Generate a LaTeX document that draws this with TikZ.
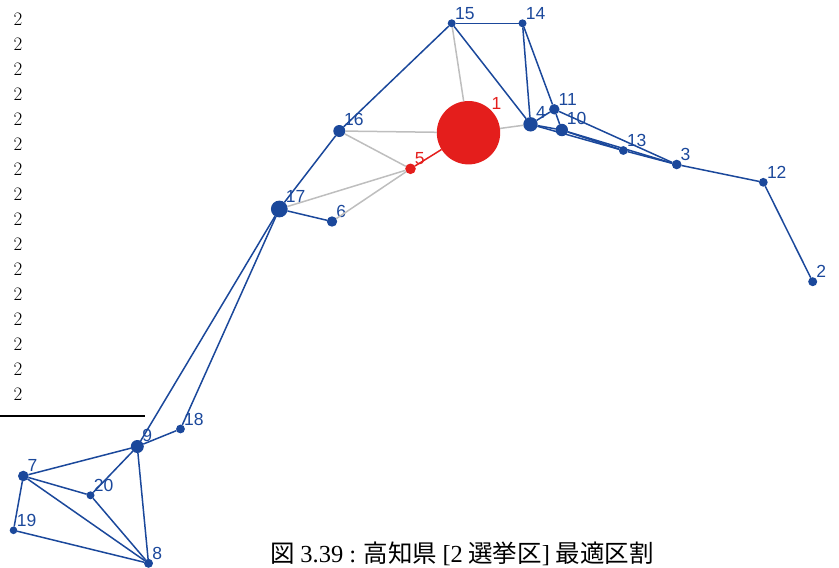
\documentclass[tikz,border=0pt]{standalone}
\usepackage{fontspec}
\newfontfamily\cjk{Noto Sans CJK JP}
\newfontfamily\tms{Liberation Serif}
\newfontfamily\hlv{Liberation Sans}
\usetikzlibrary{positioning}
\definecolor{kblue}{RGB}{27,72,155}
\definecolor{kred}{RGB}{228,30,28}
\definecolor{kgray}{RGB}{190,190,190}
\tikzset{
  vtx/.style={circle,inner sep=0pt,outer sep=0pt},
  lab/.style={font=\hlv\fontsize{17.5}{17.5}\selectfont,inner sep=0.4pt,label distance=0pt},
  bedge/.style={kblue,line width=1.5pt},
  gedge/.style={kgray,line width=1.5pt},
}

\begin{document}
\begin{tikzpicture}[x=1pt,y=-1pt]
  \useasboundingbox (0,0) rectangle (839,568);
  % column of 2s on the left
  \foreach \k in {0,...,16}
    \node[font=\fontsize{19}{20}\selectfont,inner sep=0pt] (two\k) at (18,{-6+25*\k}) {2};
  \coordinate (rl) at (0,416);
  \coordinate (rr) at (145,416);
  \draw[line width=1.5pt] (rl) -- (rr);
  % districts
  \foreach \n/\x/\y/\r/\c in {1/468.5/132.7/31.7/kred,2/812.7/281.7/4.5/kblue,3/676.7/164.5/4.8/kblue,
      4/530.5/124.3/7.2/kblue,5/410.5/168.8/5.3/kred,6/332/221.5/5.2/kblue,7/23.3/476/5.3/kblue,
      8/148.5/563.3/4.5/kblue,9/137.3/446.5/6.5/kblue,10/561.8/130/6.2/kblue,11/554.3/109.3/5.2/kblue,
      12/763.3/182.3/4.4/kblue,13/623.3/150.5/4.4/kblue,14/522.5/23.3/4/kblue,15/451.7/23.3/4/kblue,
      16/339.3/131/6/kblue,17/279.3/209/8.4/kblue,18/180.5/429/4.4/kblue,19/13.5/530.3/3.8/kblue,
      20/90.5/495.3/4/kblue}
    \node[vtx,fill=\c,minimum size={2*\r pt},label={[lab,text=\c]north east:\n}] (d\n) at (\x,\y) {};
  \foreach \a/\b in {1/15,1/16,1/4,16/5,17/5,6/5}
    \draw[gedge] (d\a) -- (d\b);
  \draw[kred,line width=1.5pt] (d5) -- (d1);
  \foreach \a/\b in {15/14,15/16,16/17,15/4,14/4,14/11,4/11,4/10,11/10,11/3,10/13,10/3,4/13,13/3,
      3/12,12/2,17/6,17/9,17/18,9/18,9/7,9/20,9/8,7/20,7/8,7/19,19/8,20/8}
    \draw[bedge] (d\a) -- (d\b);
  \node (cap) at (462,554) {\fontsize{24.5}{25}\selectfont\cjk 図 {\tms 3.39 :} 高知県 {\tms [2} 選挙区{\tms ]} 最適区割};
\end{tikzpicture}
\end{document}
